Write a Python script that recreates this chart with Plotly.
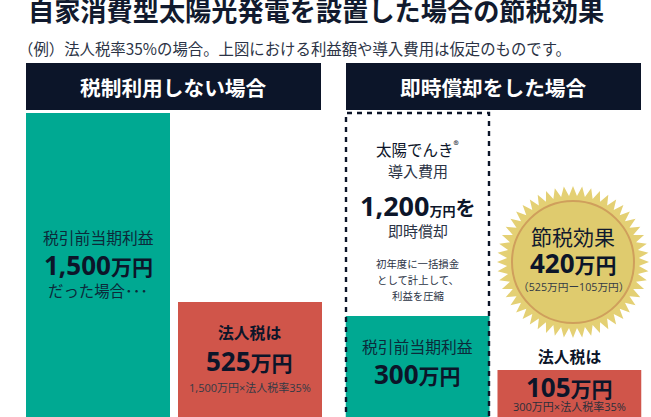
import numpy as np
import plotly.graph_objects as go

W, H = 651, 417
NAVY = "#0c1529"
GREEN = "#00a992"
RED = "#d0554a"
CJK = "Noto Sans CJK JP"
LATIN = "Open Sans, Noto Sans CJK JP"

# data
left_categories = ["税引前当期利益", "法人税"]
left_values = [1500, 525]
right_categories = ["税引前当期利益", "法人税"]
right_values = [300, 105]
bar_colors = [GREEN, RED]
BELOW = 300  # bars run on below the zero line, past the picture's lower edge


def px(x):
    return x / W


def py(y):
    return 1 - y / H


fig = go.Figure()
fig.add_trace(go.Bar(x=left_categories, y=[v + BELOW for v in left_values], base=-BELOW, marker_color=bar_colors,
                     marker_line_width=0, xaxis="x", yaxis="y", hoverinfo="skip"))
fig.add_trace(go.Bar(x=right_categories, y=[v + BELOW for v in right_values], base=-BELOW, marker_color=bar_colors,
                     marker_line_width=0, xaxis="x2", yaxis="y2", hoverinfo="skip"))


# Each panel's value -> pixel mapping (the source illustration is not to a common scale)
def value_axis(v_hi, y_hi, v_lo, y_lo):
    s = (y_lo - y_hi) / (v_hi - v_lo)
    return [v_lo - (H - y_lo) / s, v_hi + y_hi / s]


hidden = dict(visible=False, fixedrange=True)
layout = dict(
    width=W, height=H, margin=dict(l=0, r=0, t=0, b=0), showlegend=False,
    paper_bgcolor="white", plot_bgcolor="rgba(0,0,0,0)", barmode="overlay",
    bargap=8 / 152,
    xaxis=dict(hidden, domain=[px(22), px(326)], type="category", range=[-0.5, 1.5]),
    xaxis2=dict(hidden, domain=[px(341.75), px(645.25)], type="category", range=[-0.5, 1.5]),
    yaxis=dict(hidden, domain=[0, 1], range=value_axis(1500, 113, 525, 302)),
    yaxis2=dict(hidden, domain=[0, 1], anchor="x2", range=value_axis(300, 316, 105, 370)),
)

shapes = []


def rect(x0, y0, x1, y1, color):
    shapes.append(dict(type="rect", xref="paper", yref="paper", x0=px(x0), x1=px(x1), y0=py(y0), y1=py(y1),
                       fillcolor=color, line_width=0, layer="below"))


rect(26, 63, 321, 110, NAVY)
rect(346, 63, 641, 110, NAVY)

# dashed outline for the 導入費用 column
shapes.append(dict(type="path", xref="paper", yref="paper",
                   path=f"M {px(346)} {py(H + 5)} L {px(346)} {py(113)} L {px(489)} {py(113)} L {px(489)} {py(H + 5)}",
                   line=dict(color=NAVY, width=2.4, dash="5px,5px"), layer="above"))


# seal
def seal_path(cx, cy, outer, inner, n):
    ang = np.arange(2 * n) * np.pi / n - np.pi / 2
    rad = np.where(np.arange(2 * n) % 2 == 0, outer, inner)
    xs = (cx + rad * np.cos(ang)) / W
    ys = 1 - (cy + rad * np.sin(ang)) / H
    return "M " + " L ".join(f"{a:.5f} {b:.5f}" for a, b in zip(xs, ys)) + " Z"


cx, cy = 573, 262
shapes.append(dict(type="path", xref="paper", yref="paper", path=seal_path(cx, cy, 76, 66, 52),
                   fillcolor="#e4d074", line_width=0, layer="below"))
r = 61
shapes.append(dict(type="circle", xref="paper", yref="paper", x0=px(cx - r), x1=px(cx + r),
                   y0=py(cy - r), y1=py(cy + r), fillcolor="#dfcb6e",
                   line=dict(color="#cf9f5c", width=2), layer="below"))
layout["shapes"] = shapes

annotations = []


def label(x, y, text, size, color=NAVY, family=CJK, anchor="center"):
    annotations.append(dict(xref="paper", yref="paper", x=px(x), y=py(y), text=text, showarrow=False,
                            xanchor=anchor, yanchor="middle", align="center",
                            font=dict(size=size, color=color, family=family)))


def big(num, unit, n_size, u_size):
    return f'<b><span style="font-size:{n_size}px">{num}</span><span style="font-size:{u_size}px">{unit}</span></b>'


# heading
label(26, 10, "<b>自家消費型太陽光発電を設置した場合の節税効果</b>", 26.2, "#111a2e", anchor="left")
label(16, 48, "（例）法人税率35%の場合。上図における利益額や導入費用は仮定のものです。", 15.4, "#2b3345", anchor="left")
label(173.5, 87, "<b>税制利用しない場合</b>", 20.7, "#ffffff")
label(493.5, 87, "<b>即時償却をした場合</b>", 20.7, "#ffffff")

# left panel
label(98.5, 237, "税引前当期利益", 15.8, "#0c2a3a")
label(98.5, 265, big("1,500", "万円", 26, 21), 26, family=LATIN)
label(98, 290, "だった場合･･･", 15.4, "#0c2a3a")
label(249.5, 332, "<b>法人税は</b>", 15.8)
label(249.5, 361, big("525", "万円", 26, 21), 26, family=LATIN)
label(249.5, 387, "1,500万円×法人税率35%", 11, "#333a45", family=LATIN)

# right panel
label(417.5, 148, "太陽でんき<sup>®</sup>", 15.5)
label(417.5, 170, "導入費用", 15, "#2b3345")
label(417.5, 205, '<b><span style="font-size:27px">1,200</span><span style="font-size:13px">万円</span><span style="font-size:20px">を</span></b>', 27, family=LATIN)
label(417.5, 230, "即時償却", 15, "#2b3345")
label(417.5, 263, "初年度に一括損金", 10.4, "#2b3345")
label(417.5, 279, "として計上して、", 10.4, "#2b3345")
label(417.5, 295, "利益を圧縮", 10.4, "#2b3345")
label(417.5, 346, "税引前当期利益", 15.8, "#0c2a3a")
label(417.5, 374, big("300", "万円", 26, 21), 26, family=LATIN)

label(573, 236, "節税効果", 21, "#111a2e")
label(573, 263, big("420", "万円", 26, 21), 26, family=LATIN)
label(573, 287, "（525万円ー105万円）", 10.7, "#333a45", family=LATIN)
label(569, 356, "<b>法人税は</b>", 15.8)
label(569, 387, big("105", "万円", 26, 21), 26, family=LATIN)
label(569, 406, "300万円×法人税率35%", 11, "#2b2f3a", family=LATIN)

layout["annotations"] = annotations
fig.update_layout(**layout)
fig.write_html("out.html", post_script="document.body.style.margin='0';document.documentElement.style.overflow='hidden';",
               config={"displayModeBar": False})
